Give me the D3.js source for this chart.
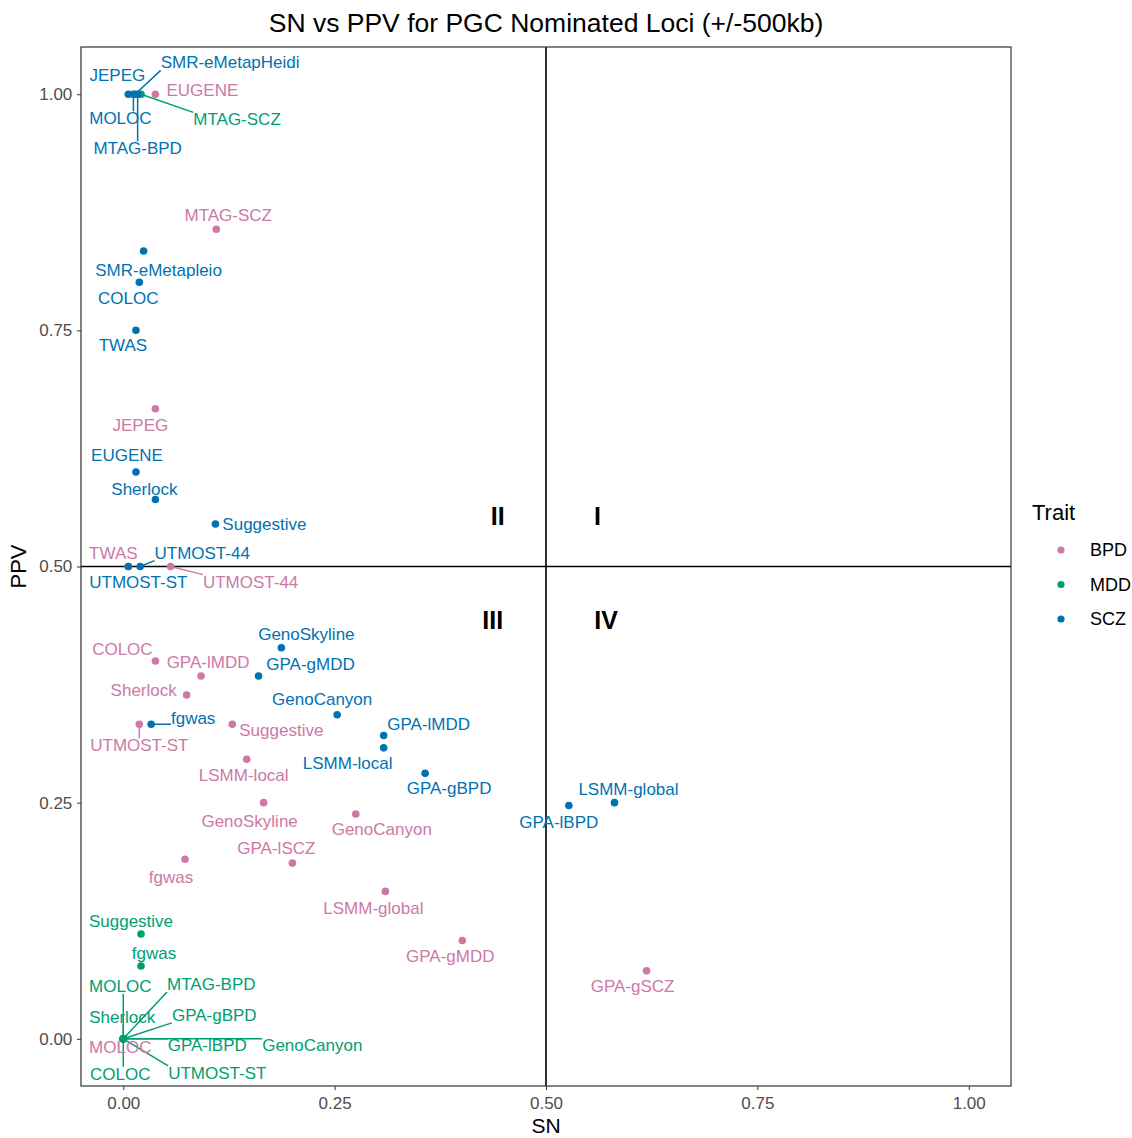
<!DOCTYPE html>
<html>
<head>
<meta charset="utf-8">
<script src="https://cdn.jsdelivr.net/npm/d3@7"></script>
<style>
	body { margin: 0; background: #fff; }
	text { font-family: 'Liberation Sans', Arial, sans-serif; }
</style>
</head>
<body>
<div id="chart"></div>
<script>
// SN / PPV per method, one set of arrays per trait

const bpdMethods = ['EUGENE', 'MTAG-SCZ', 'JEPEG', 'TWAS', 'UTMOST-44', 'COLOC', 'GPA-lMDD', 'Sherlock', 'UTMOST-ST', 'Suggestive', 'LSMM-local', 'GenoSkyline', 'GenoCanyon', 'fgwas', 'GPA-lSCZ', 'LSMM-global', 'GPA-gMDD', 'GPA-gSCZ', 'MOLOC']
const bpdSN = [0.038, 0.110, 0.038, 0.006, 0.056, 0.038, 0.092, 0.075, 0.019, 0.129, 0.146, 0.166, 0.275, 0.073, 0.200, 0.310, 0.401, 0.619, 0]
const bpdPPV = [1, 0.857, 0.667, 0.5, 0.5, 0.400, 0.384, 0.364, 0.333, 0.333, 0.296, 0.250, 0.238, 0.190, 0.186, 0.156, 0.104, 0.072, 0]

const mddMethods = ['MTAG-SCZ', 'Suggestive', 'fgwas', 'MOLOC', 'MTAG-BPD', 'Sherlock', 'GPA-gBPD', 'GPA-lBPD', 'GenoCanyon', 'COLOC', 'UTMOST-ST']
const mddSN = [0.021, 0.021, 0.021, 0, 0, 0, 0, 0, 0, 0, 0]
const mddPPV = [1, 0.111, 0.077, 0, 0, 0, 0, 0, 0, 0, 0]

const sczMethods = ['JEPEG', 'MOLOC', 'SMR-eMetapHeidi', 'MTAG-BPD', 'SMR-eMetapleio', 'COLOC', 'TWAS', 'EUGENE', 'Sherlock', 'Suggestive', 'UTMOST-44', 'UTMOST-ST', 'GenoSkyline', 'GPA-gMDD', 'GenoCanyon', 'fgwas', 'GPA-lMDD', 'LSMM-local', 'GPA-gBPD', 'GPA-lBPD', 'LSMM-global']
const sczSN = [0.006, 0.012, 0.014, 0.017, 0.024, 0.019, 0.015, 0.015, 0.038, 0.109, 0.020, 0.006, 0.187, 0.160, 0.253, 0.033, 0.308, 0.308, 0.357, 0.527, 0.581]
const sczPPV = [1, 1, 1, 1, 0.834, 0.801, 0.75, 0.600, 0.571, 0.545, 0.5, 0.5, 0.414, 0.384, 0.343, 0.333, 0.321, 0.308, 0.281, 0.247, 0.250]

const traits = ['BPD', 'MDD', 'SCZ']
const traitColors = ['#CC79A7', '#009E73', '#0072B2']
const xTicks = [0, 0.25, 0.5, 0.75, 1]
const yTicks = [0, 0.25, 0.5, 0.75, 1]
const quadrants = [
	{ label: 'II', x: 0.443, y: 0.553 },
	{ label: 'I', x: 0.561, y: 0.553 },
	{ label: 'III', x: 0.437, y: 0.443 },
	{ label: 'IV', x: 0.571, y: 0.443 },
]

// repelled label offsets in px (label centre minus point)
const labelOffsets = {
	BPD: [[47, -4], [12, -14], [-15, 16], [-15, -14], [80, 15], [-33, -12], [7, -14], [-43, -5], [0, 21], [49, 6], [-3, 16], [-14, 18], [26, 15], [-14, 18], [-16, -15], [-12, 16], [-12, 15], [-14, 15], [-3, 8]],
	MDD: [[96, 25], [-10, -13], [13, -13], [-3, -53], [88, -55], [-1, -22], [91, -24], [84, 6], [189, 6], [-3, 35], [94, 34]],
	SCZ: [[-11, -19], [-13, 24], [95, -32], [0, 54], [15, 19], [-11, 16], [-13, 15], [-9, -17], [-11, -11], [49, 0], [62, -14], [10, 15], [25, -14], [52, -12], [-15, -16], [42, -6], [45, -12], [-36, 15], [24, 15], [-10, 16], [14, -14]],
}

function buildRows(trait, methods, sn, ppv) {
	return methods.map((m, i) => ({
		trait: trait,
		method: m,
		sn: sn[i],
		ppv: ppv[i],
		off: labelOffsets[trait][i],
	}))
}

const data = [
	...buildRows('BPD', bpdMethods, bpdSN, bpdPPV),
	...buildRows('MDD', mddMethods, mddSN, mddPPV),
	...buildRows('SCZ', sczMethods, sczSN, sczPPV),
]

function createScatter(data) {
	const svgWidth = 1132
	const svgHeight = 1138
	const margin = { top: 47, right: 121, bottom: 52, left: 81 }
	const width = svgWidth - margin.left - margin.right
	const height = svgHeight - margin.top - margin.bottom

	const svg = d3
		.select('#chart')
		.append('svg')
		.attr('width', svgWidth)
		.attr('height', svgHeight)

	svg.append('rect').attr('width', svgWidth).attr('height', svgHeight).attr('fill', '#fff')

	const g = svg.append('g').attr('transform', `translate(${margin.left},${margin.top})`)

	const x = d3.scaleLinear().domain([-0.05, 1.05]).range([0, width])
	const y = d3.scaleLinear().domain([-0.05, 1.05]).range([height, 0])
	const color = d3.scaleOrdinal().domain(traits).range(traitColors)

	// axes
	const xAxis = g
		.append('g')
		.attr('transform', `translate(0,${height})`)
		.call(d3.axisBottom(x).tickValues(xTicks).tickFormat(d3.format('.2f')).tickSizeOuter(0).tickSize(4))
	const yAxis = g
		.append('g')
		.call(d3.axisLeft(y).tickValues(yTicks).tickFormat(d3.format('.2f')).tickSizeOuter(0).tickSize(4))

	for (const ax of [xAxis, yAxis]) {
		ax.select('.domain').remove()
		ax.selectAll('line').attr('stroke', '#333').attr('stroke-width', 1)
		ax.selectAll('text').attr('fill', '#4D4D4D').attr('font-size', 17)
	}
	xAxis.selectAll('text').attr('dy', '0.95em')
	yAxis.selectAll('text').attr('dx', '-0.1em')

	// reference lines
	g.append('line')
		.attr('x1', x(0.5)).attr('x2', x(0.5))
		.attr('y1', 0).attr('y2', height)
		.attr('stroke', '#000').attr('stroke-width', 1.6)
	g.append('line')
		.attr('x1', 0).attr('x2', width)
		.attr('y1', y(0.5)).attr('y2', y(0.5))
		.attr('stroke', '#000').attr('stroke-width', 1.6)

	// quadrant numbers
	g.selectAll('.quad')
		.data(quadrants)
		.enter()
		.append('text')
		.attr('class', 'quad')
		.attr('x', (d) => x(d.x))
		.attr('y', (d) => y(d.y))
		.attr('text-anchor', 'middle')
		.attr('dy', '0.36em')
		.attr('font-size', 25)
		.attr('font-weight', 'bold')
		.text((d) => d.label)

	// points
	g.selectAll('.pt')
		.data(data)
		.enter()
		.append('circle')
		.attr('class', 'pt')
		.attr('cx', (d) => x(d.sn))
		.attr('cy', (d) => y(d.ppv))
		.attr('r', 3.8)
		.attr('fill', (d) => color(d.trait))

	// labels first (need bbox for segments)
	const segLayer = g.append('g')
	const labels = g
		.selectAll('.lab')
		.data(data)
		.enter()
		.append('text')
		.attr('class', 'lab')
		.attr('x', (d) => x(d.sn) + d.off[0])
		.attr('y', (d) => y(d.ppv) + d.off[1])
		.attr('text-anchor', 'middle')
		.attr('dy', '0.36em')
		.attr('font-size', 17)
		.attr('fill', (d) => color(d.trait))
		.text((d) => d.method)

	labels.each(function (d) {
		const b = this.getBBox()
		const px = x(d.sn)
		const py = y(d.ppv)
		const cx = Math.max(b.x, Math.min(px, b.x + b.width))
		const cy = Math.max(b.y + 2, Math.min(py, b.y + b.height - 2))
		const dist = Math.hypot(cx - px, cy - py)
		if (dist > 13) {
			segLayer
				.append('line')
				.attr('x1', px).attr('y1', py)
				.attr('x2', cx).attr('y2', cy)
				.attr('stroke', color(d.trait))
				.attr('stroke-width', 1.5)
		}
	})

	// panel border
	g.append('rect')
		.attr('width', width)
		.attr('height', height)
		.attr('fill', 'none')
		.attr('stroke', '#333')
		.attr('stroke-width', 1.2)

	// titles
	svg.append('text')
		.attr('x', margin.left + width / 2)
		.attr('y', 32)
		.attr('text-anchor', 'middle')
		.attr('font-size', 26.5)
		.text('SN vs PPV for PGC Nominated Loci (+/-500kb)')

	svg.append('text')
		.attr('x', margin.left + width / 2)
		.attr('y', 1133)
		.attr('text-anchor', 'middle')
		.attr('font-size', 21)
		.text('SN')

	svg.append('text')
		.attr('transform', `translate(26,${margin.top + height / 2}) rotate(-90)`)
		.attr('text-anchor', 'middle')
		.attr('font-size', 22)
		.text('PPV')

	// legend
	const legend = svg.append('g').attr('transform', 'translate(1045,0)')
	legend.append('text').attr('x', -13).attr('y', 520).attr('font-size', 22).text('Trait')
	const items = legend
		.selectAll('.key')
		.data(traits)
		.enter()
		.append('g')
		.attr('class', 'key')
		.attr('transform', (d, i) => `translate(0,${550 + i * 34.5})`)
	items.append('circle').attr('cx', 16).attr('cy', 0).attr('r', 3.6).attr('fill', (d) => color(d))
	items.append('text')
		.attr('x', 16).attr('y', 0).attr('dy', '0.35em')
		.attr('text-anchor', 'middle')
		.attr('font-size', 8)
		.attr('fill', (d) => color(d))
		.text('a')
	items.append('text')
		.attr('x', 45).attr('y', 0).attr('dy', '0.35em')
		.attr('font-size', 18)
		.text((d) => d)
}

createScatter(data)
</script>
</body>
</html>
